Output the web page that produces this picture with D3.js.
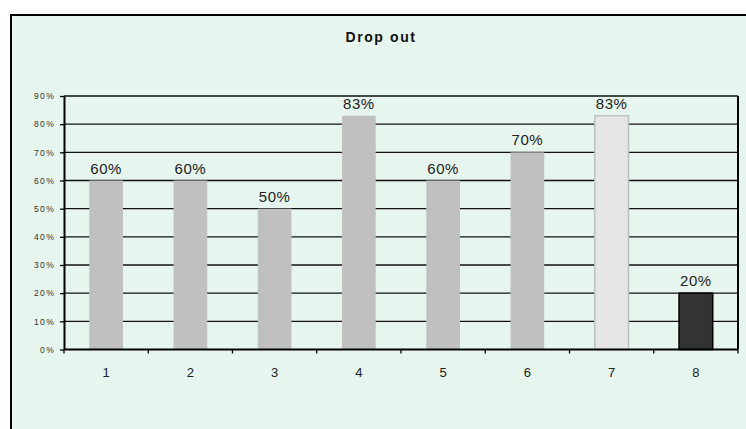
<!DOCTYPE html>
<html>
<head>
<meta charset="utf-8">
<script src="https://cdn.jsdelivr.net/npm/d3@7"></script>
<style>
  body { margin: 0; background: #fff; }
  svg { display: block; font-family: "Liberation Sans", Arial, sans-serif; }
</style>
</head>
<body>
<div class="container"></div>
<script>
const categories = ['1', '2', '3', '4', '5', '6', '7', '8'];
const dropOut = [0.60, 0.60, 0.50, 0.83, 0.60, 0.70, 0.83, 0.20];
const valueLabels = ['60%', '60%', '50%', '83%', '60%', '70%', '83%', '20%'];
const yTicks = [0, 0.1, 0.2, 0.3, 0.4, 0.5, 0.6, 0.7, 0.8, 0.9];

const w = 746;
const h = 429;

const margin = {
    top: 96,
    right: 8,
    bottom: 79.5,
    left: 64
}

const svg = d3.select('.container')
    .append('svg')
    .attr('width', w)
    .attr('height', h);

// outer chart box, runs off the right and bottom edges
svg.append('rect')
    .attr('x', 11)
    .attr('y', 15)
    .attr('width', w + 20)
    .attr('height', h)
    .attr('fill', '#e6f5ee')
    .attr('stroke', '#000')
    .attr('stroke-width', 2);

svg.append('text')
    .attr('x', 381)
    .attr('y', 42)
    .attr('text-anchor', 'middle')
    .style('font-size', '14px')
    .style('font-weight', 'bold')
    .style('letter-spacing', '1.6px')
    .attr('fill', '#111')
    .text('Drop out');

const x = d3.scaleBand()
    .domain(categories)
    .range([margin.left, w - margin.right])
    .paddingInner(0.6)
    .paddingOuter(0.3);

const y = d3.scaleLinear()
    .domain([0, 0.9])
    .range([h - margin.bottom, margin.top]);

// gridlines
svg.append('g')
    .selectAll('line')
    .data(yTicks.slice(1))
    .join('line')
    .attr('x1', margin.left)
    .attr('x2', w - margin.right)
    .attr('y1', d => y(d))
    .attr('y2', d => y(d))
    .attr('stroke', '#111')
    .attr('stroke-width', 1.3);

// right border of plot
svg.append('line')
    .attr('x1', w - margin.right)
    .attr('x2', w - margin.right)
    .attr('y1', margin.top)
    .attr('y2', h - margin.bottom)
    .attr('stroke', '#000')
    .attr('stroke-width', 2);

svg.append('g')
    .selectAll('rect')
    .data(dropOut)
    .join('rect')
    .attr('x', (d, i) => x(categories[i]))
    .attr('y', d => y(d))
    .attr('width', x.bandwidth())
    .attr('height', d => y(0) - y(d))
    .attr('fill', (d, i) => i === 6 ? '#e6e6e6' : i === 7 ? '#333333' : '#c0c0c0')
    .attr('stroke', (d, i) => i === 6 ? '#c0c0c0' : i === 7 ? '#000' : 'none')
    .attr('stroke-width', 1.5);

svg.append('g')
    .selectAll('text')
    .data(dropOut)
    .join('text')
    .attr('x', (d, i) => x(categories[i]) + x.bandwidth() / 2)
    .attr('y', d => y(d) - 7)
    .attr('text-anchor', 'middle')
    .style('font-size', '15px')
    .style('letter-spacing', '0.5px')
    .attr('fill', '#222')
    .text((d, i) => valueLabels[i]);

// y axis
const yAxis = svg.append('g')
    .attr('transform', `translate(${margin.left},0)`)
    .call(d3.axisLeft(y).tickValues(yTicks).tickFormat(d3.format('.0%')).tickSize(4).tickSizeOuter(0));
yAxis.select('.domain').attr('stroke-width', 2);
yAxis.selectAll('.tick line').attr('stroke-width', 1.3);
yAxis.selectAll('text')
    .attr('x', -9)
    .style('font-size', '8.5px')
    .style('letter-spacing', '1.3px')
    .attr('fill', '#333')
    .attr('font-family', 'Liberation Sans, Arial, sans-serif');

// x axis with ticks between categories
const xAxis = svg.append('g')
    .attr('transform', `translate(0,${y(0)})`);
xAxis.append('line')
    .attr('x1', margin.left)
    .attr('x2', w - margin.right)
    .attr('stroke', '#000')
    .attr('stroke-width', 2);
xAxis.selectAll('line.tk')
    .data(d3.range(categories.length + 1))
    .join('line')
    .attr('class', 'tk')
    .attr('x1', i => margin.left + i * (w - margin.right - margin.left) / categories.length)
    .attr('x2', i => margin.left + i * (w - margin.right - margin.left) / categories.length)
    .attr('y1', 0)
    .attr('y2', 4)
    .attr('stroke', '#000')
    .attr('stroke-width', 1.3);
xAxis.selectAll('text')
    .data(categories)
    .join('text')
    .attr('x', d => x(d) + x.bandwidth() / 2)
    .attr('y', 27.5)
    .attr('text-anchor', 'middle')
    .style('font-size', '13px')
    .attr('fill', '#222')
    .text(d => d);
</script>
</body>
</html>
